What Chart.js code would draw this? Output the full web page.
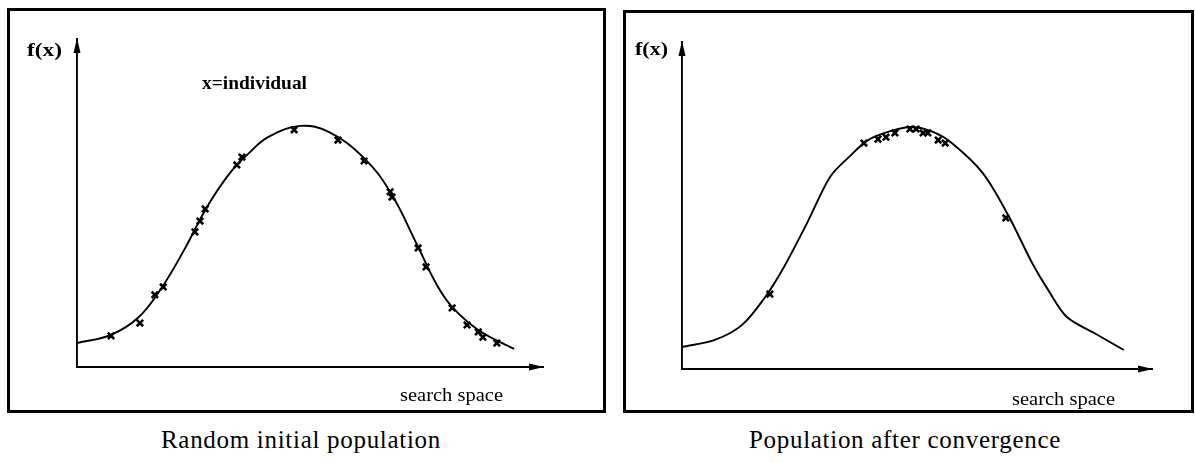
<!DOCTYPE html>
<html>
<head>
<meta charset="utf-8">
<script src="https://cdn.jsdelivr.net/npm/chart.js"></script>
<style>
  body { margin: 0; background: #fff; width: 1195px; height: 463px; position: relative; overflow: hidden; }
  .box { position: absolute; border: 3px solid #000; box-sizing: border-box; }
  canvas { position: absolute; top: 0; }
  .caption { position: absolute; top: 426px; text-align: center; font-family: "Liberation Serif", serif; font-size: 25px; letter-spacing: 0.7px; color: #000; }
</style>
</head>
<body>
<div class="box" style="left:7px; top:8px; width:599px; height:405px;"></div>
<div class="box" style="left:623px; top:10px; width:571px; height:403px;"></div>
<canvas id="leftChart" width="612" height="420" style="left:0;"></canvas>
<canvas id="rightChart" width="583" height="420" style="left:612px;"></canvas>
<div class="caption" style="left:106px; width:390px;">Random initial population</div>
<div class="caption" style="left:710px; width:390px;">Population after convergence</div>
<script>
// fitness curve, first picture (search space 0-100, f(x) 0-100)
const leftCurveX = [0, 7.3, 13.1, 18.0, 23.0, 27.9, 32.8, 36.9, 41.0, 47.9, 54.1, 61.6, 67.2, 73.0, 77.0, 80.5, 86.1, 93.8];
const leftCurveY = [7.3, 9.8, 15.0, 23.8, 35.7, 48.8, 59.1, 65.2, 70.1, 73.5, 71.6, 63.7, 53.4, 37.2, 25.6, 18.3, 11.3, 5.5];
// random initial individuals
const leftPopX = [7.3, 13.5, 16.7, 18.5, 25.3, 26.4, 27.5, 34.3, 35.4, 46.6, 56.0, 61.6, 67.2, 67.6, 73.2, 74.9, 80.5, 83.7, 86.1, 87.1, 90.1];
const leftPopY = [9.5, 13.4, 22.0, 24.4, 41.2, 44.5, 48.2, 61.6, 64.0, 72.3, 69.2, 62.8, 53.4, 51.8, 36.3, 30.5, 18.0, 12.8, 10.7, 9.1, 7.3];

// fitness curve, second picture
const rightCurveX = [0, 7.0, 12.8, 17.7, 21.7, 26.6, 31.5, 35.5, 39.6, 44.5, 48.9, 53.4, 57.4, 64.0, 69.6, 74.5, 77.9, 81.9, 87.7, 94.0];
const rightCurveY = [6.7, 8.9, 13.5, 22.0, 31.2, 44.6, 58.7, 64.8, 70.0, 72.8, 74.0, 72.5, 69.1, 59.9, 46.5, 32.4, 24.2, 15.9, 11.0, 5.8];
// individuals after convergence
const rightPopX = [18.7, 38.7, 41.7, 43.4, 45.3, 48.5, 49.8, 51.3, 52.3, 54.5, 56.0, 68.9];
const rightPopY = [22.9, 69.1, 70.3, 70.9, 72.2, 73.4, 73.4, 72.2, 72.2, 70.0, 69.1, 46.2];

const toPoints = (xs, ys) => xs.map((x, i) => ({ x: x, y: ys[i] }));

// arrows on the axes and the free text labels
const axisDecor = {
    id: 'axisDecor',
    afterDraw(chart, args, opts) {
        const ctx = chart.ctx;
        const a = chart.chartArea;
        ctx.save();
        ctx.fillStyle = '#000';
        // y axis arrow head
        ctx.beginPath();
        ctx.moveTo(a.left, a.top - 1);
        ctx.lineTo(a.left - 3.5, a.top + 14);
        ctx.lineTo(a.left + 3.5, a.top + 14);
        ctx.closePath();
        ctx.fill();
        // x axis arrow head
        ctx.beginPath();
        ctx.moveTo(a.right + 1, a.bottom);
        ctx.lineTo(a.right - 14, a.bottom - 3.5);
        ctx.lineTo(a.right - 14, a.bottom + 3.5);
        ctx.closePath();
        ctx.fill();

        opts.labels.forEach(l => {
            ctx.font = l.font;
            const w = ctx.measureText(l.text).width;
            ctx.save();
            ctx.translate(l.x, l.cy);
            ctx.scale(l.width / w, 1);
            ctx.textBaseline = 'middle';
            ctx.textAlign = 'left';
            ctx.fillText(l.text, 0, 0);
            ctx.restore();
        });
        ctx.restore();
    }
};

function makeChart(id, curve, pop, padding, labels, tension) {
    return new Chart(document.getElementById(id), {
        type: 'scatter',
        data: {
            datasets: [
                {
                    type: 'scatter',
                    data: pop,
                    pointStyle: 'crossRot',
                    pointRadius: 4.5,
                    borderWidth: 2.6,
                    borderColor: '#000',
                    backgroundColor: '#000'
                },
                {
                    type: 'line',
                    data: curve,
                    showLine: true,
                    tension: tension,
                    borderColor: '#000',
                    borderWidth: 1.9,
                    pointRadius: 0,
                    fill: false
                }
            ]
        },
        options: {
            responsive: false,
            animation: false,
            devicePixelRatio: 1,
            layout: { padding: padding },
            scales: {
                x: {
                    type: 'linear', min: 0, max: 100,
                    ticks: { display: false },
                    grid: { display: false, drawTicks: false },
                    border: { display: true, color: '#000', width: 1.9 }
                },
                y: {
                    type: 'linear', min: 0, max: 100,
                    ticks: { display: false },
                    grid: { display: false, drawTicks: false },
                    border: { display: true, color: '#000', width: 1.9 }
                }
            },
            plugins: {
                legend: { display: false },
                tooltip: { enabled: false },
                axisDecor: { labels: labels }
            }
        },
        plugins: [axisDecor]
    });
}

makeChart('leftChart',
    toPoints(leftCurveX, leftCurveY),
    toPoints(leftPopX, leftPopY),
    { left: 77, top: 39, right: 69, bottom: 53 },
    [
        { text: 'f(x)', font: 'bold 19px "Liberation Serif"', x: 27, cy: 51, width: 35 },
        { text: 'x=individual', font: 'bold 18px "Liberation Serif"', x: 202, cy: 84, width: 105 },
        { text: 'search space', font: '18px "Liberation Serif"', x: 400, cy: 396, width: 103 }
    ],
    0.4);

makeChart('rightChart',
    toPoints(rightCurveX, rightCurveY),
    toPoints(rightPopX, rightPopY),
    { left: 70, top: 42, right: 43, bottom: 51 },
    [
        { text: 'f(x)', font: 'bold 19px "Liberation Serif"', x: 23, cy: 50, width: 33 },
        { text: 'search space', font: '18px "Liberation Serif"', x: 400, cy: 400, width: 103 }
    ],
    0.32);
</script>
</body>
</html>
